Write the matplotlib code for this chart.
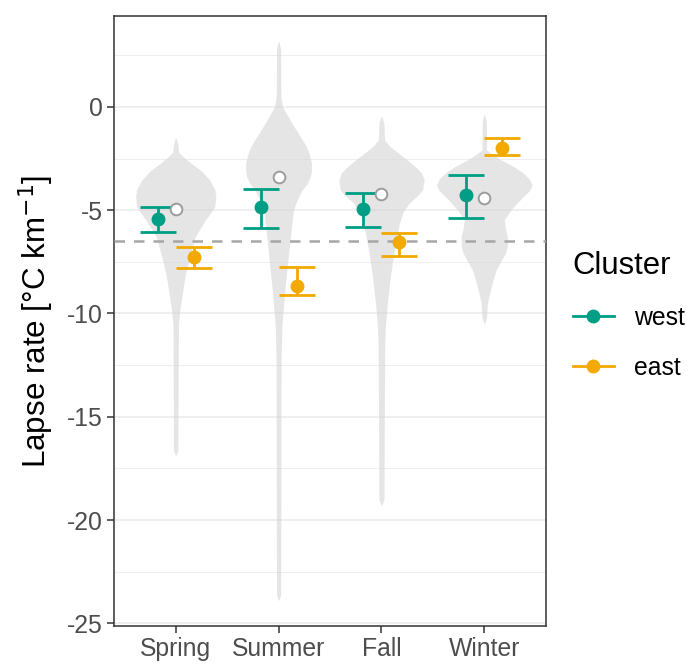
import matplotlib
matplotlib.use("Agg")
import matplotlib.pyplot as plt
from matplotlib.lines import Line2D
import numpy as np

plt.rcParams['font.family'] = ['Liberation Sans', 'DejaVu Sans']

seasons = ["Spring", "Summer", "Fall", "Winter"]
clusters = ["west", "east"]
colors = {"west": "#009E84", "east": "#F2A900"}

# mean and error-bar limits per season (west / east)
west_mean = [-5.42, -4.83, -4.96, -4.26]
west_low = [-6.04, -5.84, -5.83, -5.39]
west_high = [-4.83, -3.99, -4.18, -3.31]
east_mean = [-7.28, -8.65, -6.52, -1.97]
east_low = [-7.81, -9.12, -7.24, -2.32]
east_high = [-6.76, -7.77, -6.12, -1.50]
# overall medians (white circles)
median_all = [-4.94, -3.41, -4.21, -4.39]
reference_rate = -6.5

# violin outlines: y values and half widths (in category units)
spring_y = [-1.52, -1.8, -2.2, -2.4, -2.73, -3.1, -3.54, -4.0, -4.34, -4.83, -5.2,
            -5.47, -6.28, -7.0, -7.57, -8.2, -8.86, -9.83, -10.5, -13.0, -16.6, -16.85]
spring_w = [0.005, 0.02, 0.03, 0.07, 0.15, 0.25, 0.33, 0.38, 0.39, 0.38, 0.33,
            0.29, 0.19, 0.15, 0.12, 0.09, 0.07, 0.04, 0.027, 0.024, 0.022, 0.005]
summer_y = [3.16, 2.8, 0.5, 0.0, -0.31, -0.7, -1.11, -1.5, -1.92, -2.3, -2.73, -3.1,
            -3.37, -3.7, -4.02, -4.5, -4.99, -5.6, -6.28, -7.57, -9.02, -10.64,
            -12.25, -20.0, -23.6, -23.87]
summer_w = [0.005, 0.02, 0.022, 0.04, 0.075, 0.12, 0.17, 0.22, 0.27, 0.30, 0.32, 0.32,
            0.31, 0.28, 0.23, 0.18, 0.145, 0.13, 0.115, 0.088, 0.058, 0.032,
            0.024, 0.022, 0.02, 0.005]
fall_y = [-0.47, -0.8, -1.6, -1.9, -2.24, -2.6, -2.89, -3.2, -3.54, -4.02, -4.3,
          -4.66, -5.1, -5.63, -6.92, -8.21, -9.5, -10.5, -11.5, -15.0, -19.0, -19.27]
fall_w = [0.005, 0.025, 0.03, 0.08, 0.165, 0.26, 0.33, 0.39, 0.415, 0.40, 0.35,
          0.27, 0.21, 0.175, 0.125, 0.087, 0.058, 0.04, 0.032, 0.028, 0.025, 0.005]
winter_y = [-0.39, -0.7, -2.08, -2.3, -2.57, -2.9, -3.21, -3.5, -3.78, -4.05, -4.34,
            -4.7, -4.99, -5.47, -5.9, -6.28, -6.7, -7.09, -7.5, -7.89, -8.3, -8.7,
            -9.5, -10.2, -10.47]
winter_w = [0.005, 0.02, 0.022, 0.08, 0.165, 0.29, 0.38, 0.44, 0.465, 0.44, 0.38,
            0.31, 0.26, 0.195, 0.205, 0.225, 0.225, 0.205, 0.16, 0.115, 0.09, 0.068,
            0.03, 0.022, 0.005]
violins = [(spring_y, spring_w), (summer_y, summer_w), (fall_y, fall_w), (winter_y, winter_w)]

yticks = [0, -5, -10, -15, -20, -25]
yminor = [2.5, -2.5, -7.5, -12.5, -17.5, -22.5]

fig = plt.figure(figsize=(6.88, 6.64), dpi=100)
ax = fig.add_axes([0.1657, 0.0572, 0.6279, 0.9187])

pos = np.arange(1, len(seasons) + 1)
dodge = 0.175
cap = 0.175
elw = 2.0

for p, (vy, vw) in zip(pos, violins):
    vy = np.array(vy); vw = np.array(vw)
    ax.fill_betweenx(vy, p - vw, p + vw, color="#D6D6D6", alpha=0.62, lw=0, zorder=2)

ax.axhline(reference_rate, color="#A6A6A6", lw=1.8, ls=(0, (4.2, 3.6)), zorder=3)

for cl, means, lows, highs, off in [("west", west_mean, west_low, west_high, -dodge),
                                     ("east", east_mean, east_low, east_high, dodge)]:
    x = pos + off
    c = colors[cl]
    ax.vlines(x, lows, highs, color=c, lw=elw, zorder=4)
    ax.hlines(lows, x - cap, x + cap, color=c, lw=elw, zorder=4)
    ax.hlines(highs, x - cap, x + cap, color=c, lw=elw, zorder=4)
    ax.plot(x, means, 'o', color=c, ms=10, mew=0, zorder=5)

ax.plot(pos, median_all, 'o', mfc="white", mec="#9C9C9C", mew=1.4, ms=8.4, ls='none', zorder=6)

ax.set_xlim(0.4, 4.6)
ax.set_ylim(-25.13, 4.4)
ax.set_xticks(pos)
ax.set_xticklabels(seasons)
ax.set_yticks(yticks)
ax.set_yticklabels([str(t) for t in yticks])
ax.set_yticks(yminor, minor=True)
ax.grid(False)
for t in yticks:
    ax.axhline(t, color="#EBEBEB", lw=1.1, zorder=0)
for t in yminor:
    ax.axhline(t, color="#EBEBEB", lw=0.6, zorder=0)

ax.tick_params(axis='both', which='major', length=5, width=1.1, color="#333333",
               labelsize=17.8, labelcolor="#4D4D4D", pad=3)
ax.tick_params(axis='y', which='minor', length=0)
for s in ax.spines.values():
    s.set_color("#333333")
    s.set_linewidth(1.1)

ax.set_ylabel("Lapse rate [°C km$^{-1}$]", fontsize=22.6, color="black", labelpad=8)

handles = [Line2D([0], [0], color=colors[c], lw=elw, marker='o', ms=10, mew=0) for c in clusters]
leg = fig.legend(handles, clusters, loc='upper left', bbox_to_anchor=(0.8325, 0.6225),
                 frameon=False, fontsize=17.8, title="Cluster", title_fontsize=22.3,
                 handlelength=1.66, handletextpad=0.8, labelspacing=1.03,
                 borderpad=0, borderaxespad=0, alignment='left')

fig.savefig("out.png", dpi=100)
